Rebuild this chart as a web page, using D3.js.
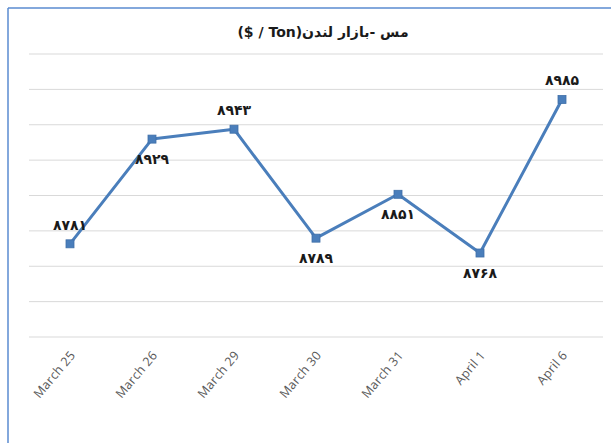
<!DOCTYPE html>
<html>
<head>
<meta charset="utf-8">
<script src="https://cdn.jsdelivr.net/npm/d3@7"></script>
<style>
  html, body { margin: 0; padding: 0; background: #fff; }
  svg { display: block; }
</style>
</head>
<body>
<svg id="chart" width="611" height="443"></svg>
<script>
const title = "مس -بازار لندن(Ton / $)";
const categories = ["March 25", "March 26", "March 29", "March 30", "March 31", "April 1", "April 6"];
const prices = [8781, 8929, 8943, 8789, 8851, 8768, 8985];
const priceLabels = ["۸۷۸۱", "۸۹۲۹", "۸۹۴۳", "۸۷۸۹", "۸۸۵۱", "۸۷۶۸", "۸۹۸۵"];
const labelSide = ["above", "below", "above", "below", "below", "below", "above"];
const yDomain = [8650, 9050];
const yTicks = [8650, 8700, 8750, 8800, 8850, 8900, 8950, 9000, 9050];

const svg = d3.select("#chart");
const W = 611, H = 443;
const plot = { left: 29, right: 603, top: 53.5, bottom: 336.5 };

svg.append("rect").attr("width", W).attr("height", H).attr("fill", "#fff");

// frame (top + left edges visible)
svg.append("line").attr("x1", 8).attr("x2", W).attr("y1", 8).attr("y2", 8)
  .attr("stroke", "#5a8bd0").attr("stroke-width", 1.5);
svg.append("line").attr("x1", 8).attr("x2", 8).attr("y1", 8).attr("y2", H)
  .attr("stroke", "#5a8bd0").attr("stroke-width", 1.5);

const x = d3.scaleBand().domain(categories).range([plot.left, plot.right]);
const y = d3.scaleLinear().domain(yDomain).range([plot.bottom, plot.top]);

// gridlines
const yAxis = d3.axisLeft(y).tickValues(yTicks).tickSize(-(plot.right - plot.left)).tickFormat("");
const gy = svg.append("g").attr("transform", `translate(${plot.left},0)`).call(yAxis);
gy.select(".domain").remove();
gy.selectAll(".tick line").attr("stroke", "#d9d9d9").attr("stroke-width", 1);

// x axis labels
const xAxis = d3.axisBottom(x).tickSize(0).tickPadding(0);
const gx = svg.append("g").attr("transform", `translate(0,${plot.bottom})`).call(xAxis);
gx.select(".domain").remove();
gx.selectAll(".tick text")
  .attr("font-family", "'Open Sans', 'Noto Sans', sans-serif")
  .attr("font-size", 12.5)
  .attr("letter-spacing", "0.3px")
  .attr("fill", "#595959")
  .attr("text-anchor", "end")
  .attr("dy", null)
  .attr("y", null)
  .attr("transform", "translate(6,19) rotate(-50)");

// line
const cx = (d, i) => x(categories[i]) + x.bandwidth() / 2;
const line = d3.line().x((d, i) => cx(d, i)).y(d => y(d));
svg.append("path").datum(prices)
  .attr("d", line)
  .attr("fill", "none")
  .attr("stroke", "#4a7ebb")
  .attr("stroke-width", 3)
  .attr("stroke-linejoin", "round");

// markers
svg.selectAll("rect.marker").data(prices).enter().append("rect")
  .attr("class", "marker")
  .attr("x", (d, i) => cx(d, i) - 4)
  .attr("y", d => y(d) - 4)
  .attr("width", 8).attr("height", 8)
  .attr("fill", "#4a7ebb")
  .attr("stroke", "#3f6fa8").attr("stroke-width", 0.8);

// data labels
svg.selectAll("text.lbl").data(prices).enter().append("text")
  .attr("class", "lbl")
  .attr("x", (d, i) => cx(d, i))
  .attr("y", (d, i) => y(d) + (labelSide[i] === "above" ? -19 : 20))
  .attr("dy", "0.35em")
  .attr("text-anchor", "middle")
  .attr("font-family", "'DejaVu Sans', sans-serif")
  .attr("font-weight", "bold")
  .attr("font-size", 14)
  .attr("fill", "#1a1a1a")
  .text((d, i) => priceLabels[i]);

// title
svg.append("text")
  .attr("x", 323).attr("y", 32)
  .attr("dy", "0.35em")
  .attr("text-anchor", "middle")
  .attr("direction", "rtl")
  .attr("font-family", "'DejaVu Sans', sans-serif")
  .attr("font-weight", "bold")
  .attr("font-size", 14)
  .attr("fill", "#1a1a1a")
  .text(title);
</script>
</body>
</html>
